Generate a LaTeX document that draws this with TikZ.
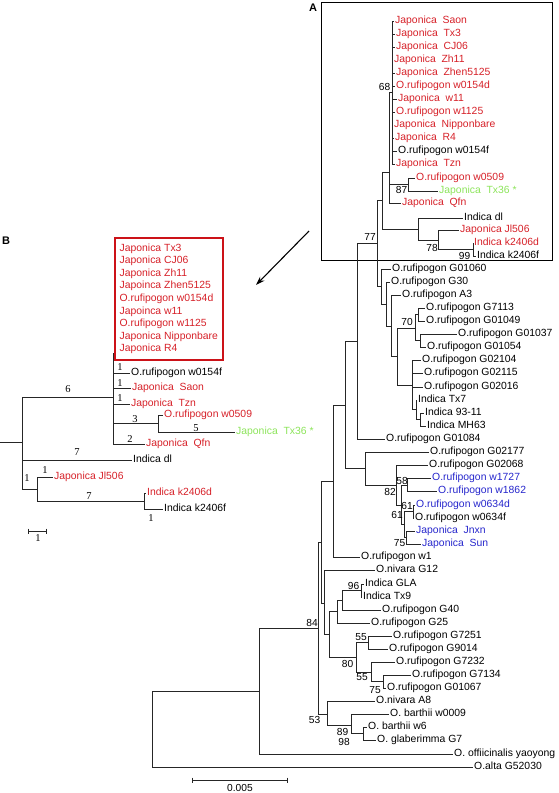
\documentclass[tikz,border=0pt]{standalone}
\usepackage{fontspec}
\setmainfont{Liberation Serif}
\setsansfont{Liberation Sans}
\usetikzlibrary{arrows.meta}
\definecolor{jred}{RGB}{214,32,40}
\definecolor{jblue}{RGB}{38,38,204}
\definecolor{jgreen}{RGB}{140,228,90}
\definecolor{boxred}{RGB}{204,18,24}

\begin{document}
\begin{tikzpicture}[x=1pt, y=-1pt,
	branch/.style={draw=black!85, line width=0.8pt},
	leaf/.style={anchor=west, inner xsep=1pt, inner ysep=0pt, text height=7.4pt, text depth=2.1pt, font=\fontsize{10.4}{12.6}\selectfont\sffamily},
	boot/.style={inner sep=0pt, font=\fontsize{10.2}{12}\selectfont\sffamily},
	blen/.style={inner sep=0pt, font=\fontsize{10.5}{12}\selectfont},
	panel/.style={inner sep=0pt, font=\fontsize{11}{13}\selectfont\sffamily\bfseries}]
	\useasboundingbox (0,0) rectangle (558,793);

	% panel A: the whole tree
	\node[panel] (labA) at (313,8) {A};
	\draw[line width=0.8pt] (321,2) rectangle (552,260);

	\node[leaf, text=jred] (jsaon) at (394,21) {Japonica~~Saon};
	\node[leaf, text=jred] (jtx3) at (395,34) {Japonica~~Tx3};
	\node[leaf, text=jred] (jcj06) at (395,47) {Japonica~~CJ06};
	\node[leaf, text=jred] (jzh11) at (393,60) {Japonica~~Zh11};
	\node[leaf, text=jred] (jzhen) at (395,73) {Japonica~~Zhen5125};
	\node[leaf, text=jred] (rw0154d) at (395,86) {O.rufipogon w0154d};
	\node[leaf, text=jred] (jw11) at (397,99) {Japonica~~w11};
	\node[leaf, text=jred] (rw1125) at (395,112) {O.rufipogon w1125};
	\node[leaf, text=jred] (jnip) at (393,125) {Japonica~~Nipponbare};
	\node[leaf, text=jred] (jr4) at (394,138) {Japonica~~R4};
	\node[leaf] (rw0154f) at (397,151) {O.rufipogon w0154f};
	\node[leaf, text=jred] (jtzn) at (395,164) {Japonica~~Tzn};
	\node[leaf, text=jred] (rw0509) at (415,178) {O.rufipogon w0509};
	\node[leaf, text=jgreen] (jtx36) at (438,191) {Japonica~~Tx36 *};
	\node[leaf, text=jred] (jqfn) at (401,203) {Japonica~~Qfn};
	\node[leaf] (idl) at (463,218) {Indica dl};
	\node[leaf, text=jred] (jjl) at (459,230) {Japonica Jl506};
	\node[leaf, text=jred] (ik06d) at (473,243) {Indica k2406d};
	\node[leaf] (ik06f) at (476,256) {Indica k2406f};
	\node[leaf] (rg01060) at (391,269) {O.rufipogon G01060};
	\node[leaf] (rg30) at (390,282) {O.rufipogon G30};
	\node[leaf] (ra3) at (401,295) {O.rufipogon A3};
	\node[leaf] (rg7113) at (425,308) {O.rufipogon G7113};
	\node[leaf] (rg01049) at (425,321) {O.rufipogon G01049};
	\node[leaf] (rg01037) at (457,334) {O.rufipogon G01037};
	\node[leaf] (rg01054) at (426,347) {O.rufipogon G01054};
	\node[leaf] (rg02104) at (421,360) {O.rufipogon G02104};
	\node[leaf] (rg02115) at (423,373) {O.rufipogon G02115};
	\node[leaf] (rg02016) at (423,387) {O.rufipogon G02016};
	\node[leaf] (itx7) at (417,400) {Indica Tx7};
	\node[leaf] (i9311) at (424,413) {Indica 93-11};
	\node[leaf] (imh63) at (426,426) {Indica MH63};
	\node[leaf] (rg01084) at (385,439) {O.rufipogon G01084};
	\node[leaf] (rg02177) at (429,452) {O.rufipogon G02177};
	\node[leaf] (rg02068) at (428,465) {O.rufipogon G02068};
	\node[leaf, text=jblue] (rw1727) at (431,478) {O.rufipogon w1727};
	\node[leaf, text=jblue] (rw1862) at (437,491) {O.rufipogon w1862};
	\node[leaf, text=jblue] (rw0634d) at (415,505) {O.rufipogon w0634d};
	\node[leaf] (rw0634f) at (414,518) {O.rufipogon w0634f};
	\node[leaf, text=jblue] (jjnxn) at (415,531) {Japonica~~Jnxn};
	\node[leaf, text=jblue] (jsun) at (421,544) {Japonica~~Sun};
	\node[leaf] (rw1) at (360,557) {O.rufipogon w1};
	\node[leaf] (ng12) at (375,570) {O.nivara G12};
	\node[leaf] (igla) at (364,584) {Indica GLA};
	\node[leaf] (itx9) at (362,597) {Indica Tx9};
	\node[leaf] (rg40) at (381,610) {O.rufipogon G40};
	\node[leaf] (rg25) at (370,623) {O.rufipogon G25};
	\node[leaf] (rg7251) at (392,636) {O.rufipogon G7251};
	\node[leaf] (rg9014) at (388,649) {O.rufipogon G9014};
	\node[leaf] (rg7232) at (395,662) {O.rufipogon G7232};
	\node[leaf] (rg7134) at (411,675) {O.rufipogon G7134};
	\node[leaf] (rg01067) at (386,688) {O.rufipogon G01067};
	\node[leaf] (na8) at (375,701) {O.nivara A8};
	\node[leaf] (bw0009) at (389,714) {O. barthii w0009};
	\node[leaf] (bw6) at (367,727) {O. barthii w6};
	\node[leaf] (gg7) at (376,740) {O. glaberimma G7};
	\node[leaf] (oyao) at (453,754) {O. offiicinalis yaoyong};
	\node[leaf] (aalt) at (473,767) {O.alta G52030};

	\coordinate (n68) at (392,92.5);
	\coordinate (n87) at (408,184.5);
	\coordinate (j1) at (389,172);
	\coordinate (n99) at (473,249.5);
	\coordinate (n78) at (438,240);
	\coordinate (ndl) at (418,229);
	\coordinate (j0) at (382,200.5);
	\coordinate (n7113) at (418,314.5);
	\coordinate (n1037) at (420,340.5);
	\coordinate (n70) at (415,328);
	\coordinate (n9311) at (420,419.5);
	\coordinate (ntx7) at (416,409.75);
	\coordinate (l5) at (412,385);
	\coordinate (l4) at (397,356.5);
	\coordinate (l3) at (391,326);
	\coordinate (l2) at (386,304);
	\coordinate (l1) at (381,286.5);
	\coordinate (n77) at (377,243);
	\coordinate (n3) at (357,341.5);
	\coordinate (n58) at (407,485.5);
	\coordinate (n61u) at (413,511.5);
	\coordinate (n75) at (406,537.5);
	\coordinate (n61l) at (404,524.5);
	\coordinate (n5861) at (401,505);
	\coordinate (n82) at (396,485);
	\coordinate (ng) at (365,468.5);
	\coordinate (nz) at (345,405);
	\coordinate (ny) at (333,481);
	\coordinate (n96) at (361,590.5);
	\coordinate (ng40) at (342,600);
	\coordinate (ng25) at (337,611.5);
	\coordinate (n55a) at (368,642.5);
	\coordinate (n75b) at (383,681.5);
	\coordinate (n55b) at (371,672);
	\coordinate (n80) at (356,657);
	\coordinate (nu) at (329,634);
	\coordinate (nwn) at (324,603);
	\coordinate (nx) at (321,542);
	\coordinate (n98) at (363,733.5);
	\coordinate (n89) at (351,725);
	\coordinate (n53) at (327,714);
	\coordinate (n84) at (318,628);
	\coordinate (n259) at (259,691);
	\coordinate (root) at (152,729);

	\foreach \c in {jsaon,jtx3,jcj06,jzh11,jzhen,rw0154d,jw11,rw1125,jnip,jr4,rw0154f,jtzn}
		\draw[branch] (n68) |- (\c.west);
	\draw[branch] (n87) |- (rw0509.west) (n87) |- (jtx36.west);
	\draw[branch] (j1) |- (n68) (j1) |- (n87) (j1) |- (jqfn.west);
	\draw[branch] (n99) |- (ik06d.west) (n99) |- (ik06f.west);
	\draw[branch] (n78) |- (jjl.west) (n78) |- (n99);
	\draw[branch] (ndl) |- (idl.west) (ndl) |- (n78);
	\draw[branch] (j0) |- (j1) (j0) |- (ndl);
	\draw[branch] (n7113) |- (rg7113.west) (n7113) |- (rg01049.west);
	\draw[branch] (n1037) |- (rg01037.west) (n1037) |- (rg01054.west);
	\draw[branch] (n70) |- (n7113) (n70) |- (n1037);
	\draw[branch] (n9311) |- (i9311.west) (n9311) |- (imh63.west);
	\draw[branch] (ntx7) |- (itx7.west) (ntx7) |- (n9311);
	\foreach \c in {rg02104.west,rg02115.west,rg02016.west,ntx7}
		\draw[branch] (l5) |- (\c);
	\draw[branch] (l4) |- (n70) (l4) |- (l5);
	\draw[branch] (l3) |- (ra3.west) (l3) |- (l4);
	\draw[branch] (l2) |- (rg30.west) (l2) |- (l3);
	\draw[branch] (l1) |- (rg01060.west) (l1) |- (l2);
	\draw[branch] (n77) |- (j0) (n77) |- (l1);
	\draw[branch] (n3) |- (n77) (n3) |- (rg01084.west);
	\draw[branch] (n58) |- (rw1727.west) (n58) |- (rw1862.west);
	\draw[branch] (n61u) |- (rw0634d.west) (n61u) |- (rw0634f.west);
	\draw[branch] (n75) |- (jjnxn.west) (n75) |- (jsun.west);
	\draw[branch] (n61l) |- (n61u) (n61l) |- (n75);
	\draw[branch] (n5861) |- (n58) (n5861) |- (n61l);
	\draw[branch] (n82) |- (rg02068.west) (n82) |- (n5861);
	\draw[branch] (ng) |- (rg02177.west) (ng) |- (n82);
	\draw[branch] (nz) |- (n3) (nz) |- (ng);
	\draw[branch] (ny) |- (nz) (ny) |- (rw1.west);
	\draw[branch] (n96) |- (igla.west) (n96) |- (itx9.west);
	\draw[branch] (ng40) |- (n96) (ng40) |- (rg40.west);
	\draw[branch] (ng25) |- (ng40) (ng25) |- (rg25.west);
	\draw[branch] (n55a) |- (rg7251.west) (n55a) |- (rg9014.west);
	\draw[branch] (n75b) |- (rg7134.west) (n75b) |- (rg01067.west);
	\draw[branch] (n55b) |- (rg7232.west) (n55b) |- (n75b);
	\draw[branch] (n80) |- (n55a) (n80) |- (n55b);
	\draw[branch] (nu) |- (ng25) (nu) |- (n80);
	\draw[branch] (nwn) |- (ng12.west) (nwn) |- (nu);
	\draw[branch] (nx) |- (ny) (nx) |- (nwn);
	\draw[branch] (n98) |- (bw6.west) (n98) |- (gg7.west);
	\draw[branch] (n89) |- (bw0009.west) (n89) |- (n98);
	\draw[branch] (n53) |- (na8.west) (n53) |- (n89);
	\draw[branch] (n84) |- (nx) (n84) |- (n53);
	\draw[branch] (n259) |- (n84) (n259) |- (oyao.west);
	\draw[branch] (root) |- (n259) (root) |- (aalt.west);

	% bootstrap values
	\node[boot] (bs68) at (384.5,87) {68};
	\node[boot] (bs87) at (401.5,190) {87};
	\node[boot] (bs78) at (432,248) {78};
	\node[boot] (bs99) at (464.5,256) {99};
	\node[boot] (bs77) at (370,237) {77};
	\node[boot] (bs70) at (407,322) {70};
	\node[boot] (bs82) at (390,492) {82};
	\node[boot] (bs58) at (402,481) {58};
	\node[boot] (bs61u) at (407,506) {61};
	\node[boot] (bs61l) at (397,515) {61};
	\node[boot] (bs75) at (399.5,543) {75};
	\node[boot] (bs96) at (353.5,586) {96};
	\node[boot] (bs55a) at (361,637) {55};
	\node[boot] (bs80) at (347.5,664) {80};
	\node[boot] (bs55b) at (362,677) {55};
	\node[boot] (bs75b) at (375,690) {75};
	\node[boot] (bs84) at (312,623) {84};
	\node[boot] (bs53) at (314.5,720) {53};
	\node[boot] (bs89) at (342.5,732) {89};
	\node[boot] (bs98) at (344,742) {98};

	\coordinate (sba) at (192,780);
	\coordinate (sbb) at (287,780);
	\draw[branch] (sba) -- (sbb);
	\draw[branch] (sba) ++(0,-2.5) -- ++(0,5);
	\draw[branch] (sbb) ++(0,-2.5) -- ++(0,5);
	\node[boot] (sblab) at (240,788) {0.005};

	% arrow to panel B
	\coordinate (arrs) at (309,231);
	\coordinate (arre) at (256,285);
	\draw[line width=1.1pt, -{Stealth[length=9pt, width=6pt]}] (arrs) -- (arre);

	% panel B: detail of the japonica part
	\node[panel] (labB) at (6,241) {B};
	\node[draw=boxred, line width=1.6pt, text=jred, align=left, anchor=north west, minimum width=108pt, minimum height=122pt, inner sep=0pt, font=\fontsize{10.4}{12.6}\selectfont\sffamily] (jbox) at (114,237)
		{Japonica Tx3\\Japonica CJ06\\Japonica Zh11\\Japoinca Zhen5125\\O.rufipogon w0154d\\Japoinca w11\\O.rufipogon w1125\\Japonica Nipponbare\\Japonica R4};

	\node[leaf] (bw0154f) at (130,373) {O.rufipogon w0154f};
	\node[leaf, text=jred] (bsaon) at (131,388) {Japonica~~Saon};
	\node[leaf, text=jred] (btzn) at (130,404) {Japonica~~Tzn};
	\node[leaf, text=jred] (bw0509) at (163,415) {O.rufipogon w0509};
	\node[leaf, text=jgreen] (btx36) at (235,432) {Japonica~~Tx36 *};
	\node[leaf, text=jred] (bqfn) at (145,444) {Japonica~~Qfn};
	\node[leaf] (bdl) at (132,460) {Indica dl};
	\node[leaf, text=jred] (bjl) at (53,477) {Japonica Jl506};
	\node[leaf, text=jred] (bk06d) at (146,493) {Indica k2406d};
	\node[leaf] (bk06f) at (163,509) {Indica k2406f};

	\coordinate (bstub) at (0,442);
	\coordinate (b0) at (22,442);
	\coordinate (btop) at (113,353);
	\coordinate (b1) at (113,397);
	\coordinate (bn87) at (158,423.5);
	\coordinate (b2) at (37,489.5);
	\coordinate (b3) at (144,501);

	\draw[branch] (bstub) -- (b0);
	\draw[branch] (b0) |- (b1) (b0) |- (bdl.west) (b0) |- (b2);
	\draw[branch] (b1) -- (btop);
	\foreach \c in {bw0154f.west,bsaon.west,btzn.west,bn87,bqfn.west}
		\draw[branch] (b1) |- (\c);
	\draw[branch] (bn87) |- (bw0509.west) (bn87) |- (btx36.west);
	\draw[branch] (b2) |- (bjl.west) (b2) |- (b3);
	\draw[branch] (b3) |- (bk06d.west) (b3) |- (bk06f.west);

	% branch lengths
	\node[blen] (bl1) at (120,367) {1};
	\node[blen] (bl2) at (120,383) {1};
	\node[blen] (bl3) at (120,398) {1};
	\node[blen] (bl4) at (135,419) {3};
	\node[blen] (bl5) at (196,428) {5};
	\node[blen] (bl6) at (130,439) {2};
	\node[blen] (bl7) at (68,389) {6};
	\node[blen] (bl8) at (77,452) {7};
	\node[blen] (bl9) at (27,478) {1};
	\node[blen] (bl10) at (45,470) {1};
	\node[blen] (bl11) at (89,496) {7};
	\node[blen] (bl12) at (151,518) {1};

	\coordinate (bsa) at (28,531);
	\coordinate (bsb) at (46,531);
	\draw[branch] (bsa) -- (bsb);
	\draw[branch] (bsa) ++(0,-2.5) -- ++(0,5);
	\draw[branch] (bsb) ++(0,-2.5) -- ++(0,5);
	\node[blen] (bslab) at (38,538) {1};
\end{tikzpicture}
\end{document}
